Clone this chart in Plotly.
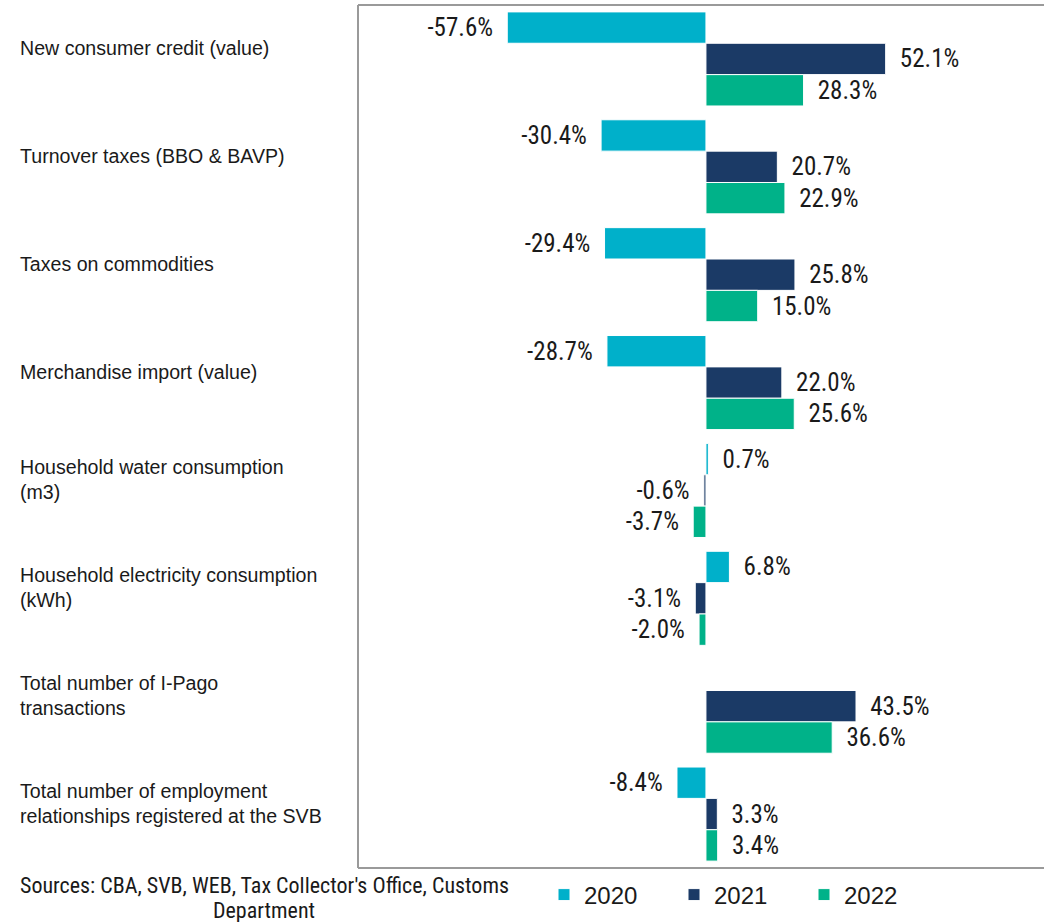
import plotly.graph_objects as go

categories = [
    "New consumer credit (value)",
    "Turnover taxes (BBO & BAVP)",
    "Taxes on commodities",
    "Merchandise import (value)",
    "Household water consumption<br>(m3)",
    "Household electricity consumption<br>(kWh)",
    "Total number of I-Pago<br>transactions",
    "Total number of employment<br>relationships registered at the SVB",
]
years = ["2020", "2021", "2022"]
v2020 = [-57.6, -30.4, -29.4, -28.7, 0.7, 6.8, None, -8.4]
v2021 = [52.1, 20.7, 25.8, 22.0, -0.6, -3.1, 43.5, 3.3]
v2022 = [28.3, 22.9, 15.0, 25.6, -3.7, -2.0, 36.6, 3.4]
colors = ["#00B0CA", "#1B3A66", "#00B289"]
source_lines = ["Sources: CBA, SVB, WEB, Tax Collector's Office, Customs", "Department"]

W, H = 1044, 922
PL, PT, PB = 358, 5, 54
PH = H - PT - PB
NB = "\u2002"
COND = "Roboto Condensed, DejaVu Sans Condensed, Liberation Sans"

def labels(vals):
    out = []
    for v in vals:
        if v is None:
            out.append("")
        elif v >= 0:
            out.append(NB + f"{v:.1f}%")
        else:
            out.append(f"{v:.1f}%" + NB)
    return out

fig = go.Figure()
for name, vals, col in zip(years, [v2020, v2021, v2022], colors):
    fig.add_trace(go.Bar(
        name=name, y=categories, x=vals, orientation="h",
        marker=dict(color=col, line=dict(color="white", width=1)),
        text=labels(vals), textposition="outside", constraintext="none",
        cliponaxis=False,
        textfont=dict(family=COND, size=25, color="#1a1a1a"),
        hoverinfo="skip",
    ))

for c in categories:
    fig.add_annotation(
        x=18 / W, xref="paper", y=c, yref="y", text=c, showarrow=False,
        xanchor="left", align="left", yshift=11,
        font=dict(family="Liberation Sans", size=19.6, color="#1a1a1a"),
    )

# source note, two centred lines
for line, ypx in zip(source_lines, [885, 910]):
    fig.add_annotation(
        x=264 / W, xref="paper", y=-(ypx - 868) / PH, yref="paper",
        text=line, showarrow=False, xanchor="center", yanchor="middle",
        align="center",
        font=dict(family=COND, size=22, color="#1a1a1a"),
    )

# plot frame: left, top and bottom edges (the right edge lies outside the picture)
for x0, y0, x1, y1 in [(PL / W, 0, PL / W, 1), (PL / W, 1, 1, 1), (PL / W, 0, 1, 0)]:
    fig.add_shape(type="line", xref="paper", yref="paper",
                  x0=x0, y0=y0, x1=x1, y1=y1,
                  line=dict(color="#9a9a9a", width=2), layer="above")

fig.update_layout(
    width=W, height=H,
    margin=dict(l=0, r=0, t=PT, b=PB),
    paper_bgcolor="white", plot_bgcolor="white",
    barmode="group", bargap=0.128, bargroupgap=0,
    xaxis=dict(domain=[PL / W, 1], range=[-100.87, 98.0], showgrid=False,
               zeroline=False, showticklabels=False, showline=False, fixedrange=True),
    yaxis=dict(autorange="reversed", showgrid=False, zeroline=False,
               showticklabels=False, showline=False, fixedrange=True),
    showlegend=True,
    legend=dict(orientation="h", x=544 / W, xanchor="left",
                y=-(895 - 868) / PH, yanchor="middle",
                entrywidth=85, entrywidthmode="pixels", itemwidth=30,
                font=dict(family="Liberation Sans", size=24, color="#1a1a1a"),
                bgcolor="rgba(0,0,0,0)"),
)

fig.write_html(
    "out.html",
    config={"displayModeBar": False},
    post_script="document.body.style.margin='0';document.body.style.overflow='hidden';",
)
